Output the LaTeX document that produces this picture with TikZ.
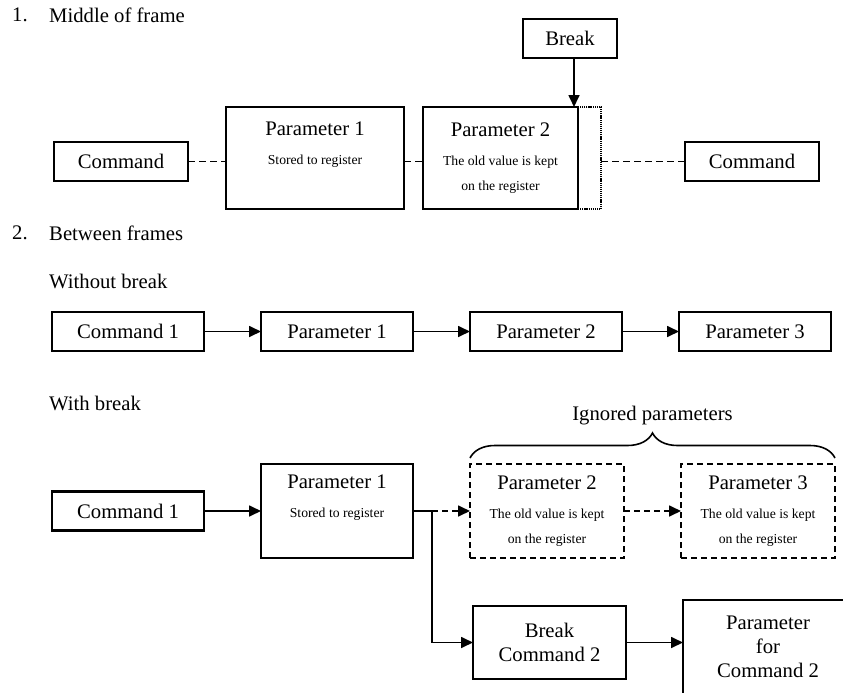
\documentclass[tikz,border=0pt]{standalone}
\usepackage{fontspec}
\setmainfont{Liberation Serif}
\usetikzlibrary{arrows.meta, positioning, calc, decorations.pathreplacing}

\newcommand{\bigfont}{\fontsize{20.7}{24}\selectfont}
\newcommand{\smallfont}{\fontsize{13.7}{16}\selectfont}

\begin{document}
\begin{tikzpicture}[
  x=1pt, y=-1pt,
  node distance=57pt,
  framebox/.style={rectangle, draw=black, line width=2.6pt, outer sep=0pt, inner sep=2pt, minimum width=#1, minimum height=39pt, font=\bigfont, align=center},
  framebox/.default=152pt,
  ignbox/.style={framebox=154pt, minimum height=94pt, dash pattern=on 6pt off 4pt},
  extbox/.style={rectangle, draw=black, line width=2.4pt, outer sep=0pt, dash pattern=on 1.2pt off 0.9pt, minimum width=23pt, minimum height=102pt},
  link/.style={-{Triangle[length=12pt, width=11pt]}, line width=1.7pt},
  dashlink/.style={link, dash pattern=on 6pt off 4pt},
  plainlink/.style={line width=1.7pt},
  gaplink/.style={line width=1.7pt, dash pattern=on 7pt off 4pt},
  brace/.style={decorate, decoration={brace, amplitude=25pt}, line width=1.6pt},
  heading/.style={font=\bigfont, anchor=west, inner sep=0pt}
]
  \useasboundingbox (0,0) rectangle (843,693);
  \clip (0,0) rectangle (843,693);

  % 1. Middle of frame
  \node[heading] (num1) at (12,15) {1.};
  \node[heading] (sec1) at (49,15) {Middle of frame};

  \node[framebox=134pt] (cmdL) at (121,161.5) {Command};
  \node[framebox=178pt, minimum height=102pt] (parA) at (315,158) {Parameter 1\\[5pt]{\smallfont Stored to register}\\[1pt]{\smallfont\strut}};
  \node[framebox=155pt, minimum height=102pt, right=19pt of parA] (parB) {Parameter 2\\[5pt]{\smallfont The old value is kept}\\[1pt]{\smallfont on the register}};
  \node[extbox, right=0pt of parB] (ext) {};
  \node[framebox=134pt] (cmdR) at (752,161.5) {Command};
  \node[framebox=94pt] (brk) at (570,38.5) {Break};

  \coordinate (hit) at ([xshift=-4pt]parB.north east);
  \draw[link] (brk.south -| hit) -- (hit);
  \draw[gaplink] (cmdL.east) -- (cmdL.east -| parA.west);
  \draw[gaplink] (parA.east |- cmdL.east) -- (parB.west |- cmdL.east);
  \draw[gaplink] (ext.east |- cmdR.west) -- (cmdR.west);

  % 2. Between frames
  \node[heading] (num2) at (12,233) {2.};
  \node[heading] (sec2) at (49,233) {Between frames};

  % Without break
  \node[heading] (nobrk) at (49,281) {Without break};
  \node[framebox] (cmd1) at (128,331.5) {Command 1};
  \node[framebox, right=of cmd1] (par1) {Parameter 1};
  \node[framebox, right=of par1] (par2) {Parameter 2};
  \node[framebox, right=of par2] (par3) {Parameter 3};

  \draw[link] (cmd1) -- (par1);
  \draw[link] (par1) -- (par2);
  \draw[link] (par2) -- (par3);

  % With break
  \node[heading] (withbrk) at (49,403) {With break};
  \node[framebox] (cmd1b) at (128,511) {Command 1};
  \node[framebox, minimum height=94pt, right=of cmd1b] (par1b) {Parameter 1\\[5pt]{\smallfont Stored to register}\\[1pt]{\smallfont\strut}};
  \node[ignbox, right=of par1b] (par2b) {Parameter 2\\[5pt]{\smallfont The old value is kept}\\[1pt]{\smallfont on the register}};
  \node[ignbox, right=of par2b] (par3b) {Parameter 3\\[5pt]{\smallfont The old value is kept}\\[1pt]{\smallfont on the register}};
  \node[framebox=153pt, minimum height=73pt] (brk2) at (549.5,642.5) {Break\\Command 2};
  \node[framebox=170pt, minimum height=94pt, right=of brk2, yshift=-4.5pt] (pfc) {Parameter\\for\\Command 2};

  \draw[brace] ([yshift=6pt]par2b.north west) -- ([yshift=6pt]par3b.north east)
    node[midway, above=32pt, font=\bigfont, inner sep=0pt] (ign) {Ignored parameters};

  \coordinate (split) at ([xshift=19pt]par1b.east);
  \draw[link] (cmd1b) -- (par1b);
  \draw[plainlink] (par1b.east) -- (split);
  \draw[dashlink] (split) -- (par2b);
  \draw[dashlink] (par2b) -- (par3b);
  \draw[link] (split) |- (brk2);
  \draw[link] (brk2.east) -- (brk2.east -| pfc.west);
\end{tikzpicture}
\end{document}
